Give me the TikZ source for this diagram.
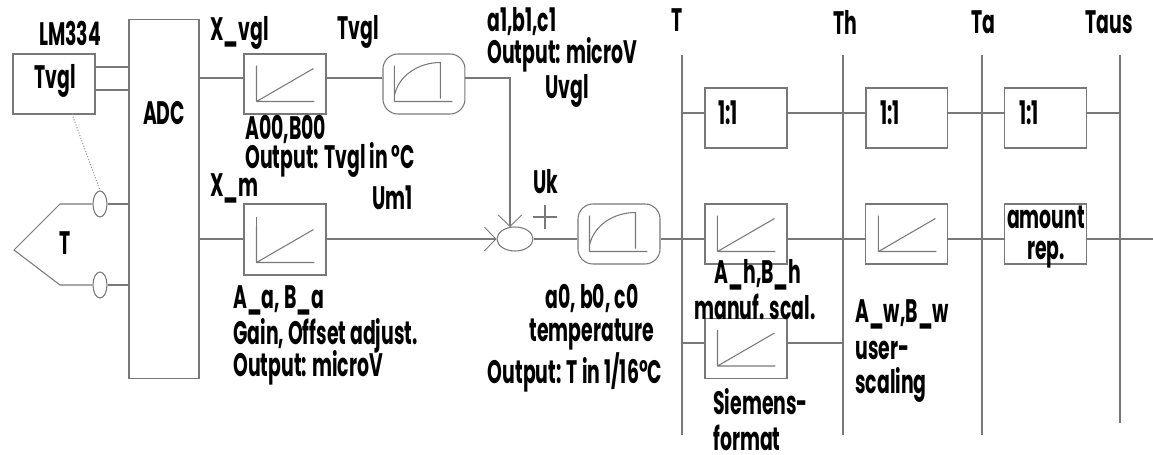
\documentclass[tikz,border=0pt]{standalone}
\usepackage{fontspec}
\setmainfont[FakeStretch=0.58]{Poppins}
\usetikzlibrary{positioning,shapes,arrows.meta,calc}
\definecolor{linegrey}{RGB}{120,120,120}

\begin{document}
\begin{tikzpicture}[x=0.02cm, y=-0.02cm, node distance=3cm,
box/.style ={rectangle, draw=linegrey, line width=0.6pt, minimum width=1.64cm, minimum height=1.2cm, inner sep=0pt},
curvebox/.style ={box, rounded corners=0.3cm},
label/.style ={inner sep=0pt, font=\fontsize{18.5}{18}\selectfont\bfseries, text=black},
llabel/.style ={label, anchor=west},
wire/.style ={draw=linegrey, line width=0.6pt},
input/.style ={wire, -{Straight Barb[length=6.5pt, width=13.5pt, line width=0.5pt]}},
]
\useasboundingbox (0,0) rectangle (1153,455);

\coordinate (ROWA) at (0,78);
\coordinate (ROWB) at (0,113);
\coordinate (ROWC) at (0,239);
\coordinate (ROWD) at (0,343);
\coordinate (ROWE) at (0,67);
\coordinate (ROWF) at (0,90);

\node (SENS) [box] at (54,84) {};
\node (ADC) [box, minimum width=1.4cm, minimum height=7.2cm] at (164,199) {};
\node (XVGL) [box] at (285,84) {};
\node (CURVEA) [curvebox, right of=XVGL, node distance=2.78cm] {};
\node (XM) [box, minimum height=1.42cm] at (285,239.5) {};
\node (SUM) [ellipse, wire, minimum width=0.72cm, minimum height=0.48cm, inner sep=0pt] at (515,239) {};
\node (CURVEB) [curvebox] at (619,234) {};
\node (SCALH) [box, right of=CURVEB, node distance=2.54cm] {};
\node (SCALW) [box, right of=SCALH, node distance=3.22cm] {};
\node (REP) [box, right of=SCALW, node distance=2.78cm] {};
\node (SIEM) [box] at (746,348.5) {};
\node (ONEA) [box] at (746,118) {};
\node (ONEB) [box, right of=ONEA, node distance=3.22cm] {};
\node (ONEC) [box, right of=ONEB, node distance=2.78cm] {};

\node (RA) [ellipse, wire, minimum width=0.28cm, minimum height=0.52cm, inner sep=0pt] at (100,204) {};
\node (RB) [ellipse, wire, minimum width=0.28cm, minimum height=0.52cm, inner sep=0pt] at (100,285) {};

% thermocouple
\coordinate (TIP) at (14,250);
\coordinate (TOPK) at (60,204);
\coordinate (BOTK) at (60,285);
\draw[wire] (RA) -- (TOPK) -- (TIP) -- (BOTK) -- (RB);
\draw[wire] (RA) -- (ADC.west |- RA);
\draw[wire] (RB) -- (ADC.west |- RB);
\draw[wire, densely dotted, draw=black!40] (72,114) -- (RA.north);

\draw[wire] (SENS.east |- ROWE) -- (ADC.west |- ROWE);
\draw[wire] (SENS.east |- ROWF) -- (ADC.west |- ROWF);
\draw[wire] (ADC.east |- ROWA) -- (XVGL.west |- ROWA);
\draw[wire] (XVGL.east |- ROWA) -- (CURVEA.west |- ROWA);
\draw[input] (CURVEA.east |- ROWA) -| (510,227);
\draw[wire] (ADC.east |- ROWC) -- (XM.west |- ROWC);
\draw[input] (XM.east |- ROWC) -- (SUM.west);
\draw[wire] (SUM.east) -- (CURVEB.west |- ROWC);
\draw[wire] (CURVEB.east |- ROWC) -- (SCALH.west |- ROWC);
\draw[wire] (SCALH.east |- ROWC) -- (SCALW.west |- ROWC);
\draw[wire] (SCALW.east |- ROWC) -- (REP.west |- ROWC);

% rails
\coordinate (RAILT) at (682,55);
\coordinate (RAILH) at (843,55);
\coordinate (RAILA) at (982,55);
\coordinate (RAILS) at (1120,55);
\coordinate (ENDR) at (1153,239);
\draw[wire] (RAILT) -- (682,435);
\draw[wire] (RAILH) -- (843,435);
\draw[wire] (RAILA) -- (982,435);
\draw[wire] (RAILS) -- (1120,423);
\draw[wire] (REP.east |- ROWC) -- (ENDR);
\draw[wire] (RAILT |- ROWB) -- (ONEA.west |- ROWB);
\draw[wire] (ONEA.east |- ROWB) -- (ONEB.west |- ROWB);
\draw[wire] (ONEB.east |- ROWB) -- (ONEC.west |- ROWB);
\draw[wire] (ONEC.east |- ROWB) -- (RAILS |- ROWB);
\draw[wire] (RAILT |- ROWD) -- (SIEM.west |- ROWD);
\draw[wire] (SIEM.east |- ROWD) -- (RAILH |- ROWD);

% linear characteristics
\foreach \b in {XVGL, XM, SCALH, SCALW, SIEM}{
  \draw[wire] ([xshift=0.26cm, yshift=0.26cm]\b.south west) coordinate (O\b) -- ++(0,-36)
    (O\b) -- ++(58,0) (O\b) -- ++(57,-33);
}
\draw[wire] (OXM) -- ++(0,-46);
% curved characteristics
\foreach \b in {CURVEA, CURVEB}{
  \draw[wire] ([xshift=0.24cm, yshift=0.26cm]\b.south west) coordinate (O\b) -- ++(0,-36)
    (O\b) -- ++(58,0) ([yshift=0.06cm]O\b) ++(0,-3) .. controls +(4,-20) and +(-22,0) .. +(46,-33) -- +(46,3);
}
\draw[wire] (533,217) -- (557,217) (545,205) -- (545,229);

\node (LMTXT) [label] at (70,33) {LM334};
\node (SENSTXT) [label] at (55,81) {Tvgl};
\node (ADCTXT) [label] at (164,113) {ADC};
\node (TTXT) [label] at (65,243) {T};
\node (VGLTXT) [llabel] at (210,33) {X\_vgl};
\node (TVGLTXT) [label] at (358,32) {Tvgl};
\node (ABTXT) [llabel] at (245,129) {A00,B00};
\node (OUTATXT) [llabel] at (245,160) {Output: Tvgl in °C};
\node (MTXT) [llabel] at (210,188) {X\_m};
\node (UMTXT) [llabel] at (372,198) {Um1};
\node (AATXT) [llabel] at (233,300) {A\_a, B\_a};
\node (GAINTXT) [llabel] at (233,336) {Gain, Offset adjust.};
\node (OUTBTXT) [llabel] at (233,368) {Output: microV};
\node (ABCTXT) [llabel] at (487,22) {a1,b1,c1};
\node (OUTCTXT) [llabel] at (487,55) {Output: microV};
\node (UVTXT) [llabel] at (545,91) {Uvgl};
\node (UKTXT) [llabel] at (533,182) {Uk};
\node (ABDTXT) [label] at (592,298) {a0, b0, c0};
\node (TEMPTXT) [label] at (592,335) {temperature};
\node (OUTDTXT) [label] at (575,372) {Output: T in 1/16°C};
\node (HTXT) [label] at (758,275) {A\_h,B\_h};
\node (MANTXT) [label] at (755,307) {manuf. scal.};
\node (SITXT) [llabel] at (713,402) {Siemens-};
\node (FMTXT) [llabel] at (713,438) {format};
\node (WTXT) [llabel] at (855,314) {A\_w,B\_w};
\node (USTXT) [llabel] at (855,350) {user-};
\node (SCTXT) [llabel] at (855,385) {scaling};
\node (HDTTXT) [label] at (677,20) {T};
\node (HDHTXT) [label] at (845,22) {Th};
\node (HDATXT) [label] at (983,22) {Ta};
\node (HDSTXT) [label] at (1109,22) {Taus};
\node (ONEATXT) [llabel] at (718,113) {1:1};
\node (ONEBTXT) [llabel] at (880,113) {1:1};
\node (ONECTXT) [llabel] at (1019,113) {1:1};
\node (REPTXT) [label, align=center] at (1046,237) {amount\\rep.};
\end{tikzpicture}
\end{document}
